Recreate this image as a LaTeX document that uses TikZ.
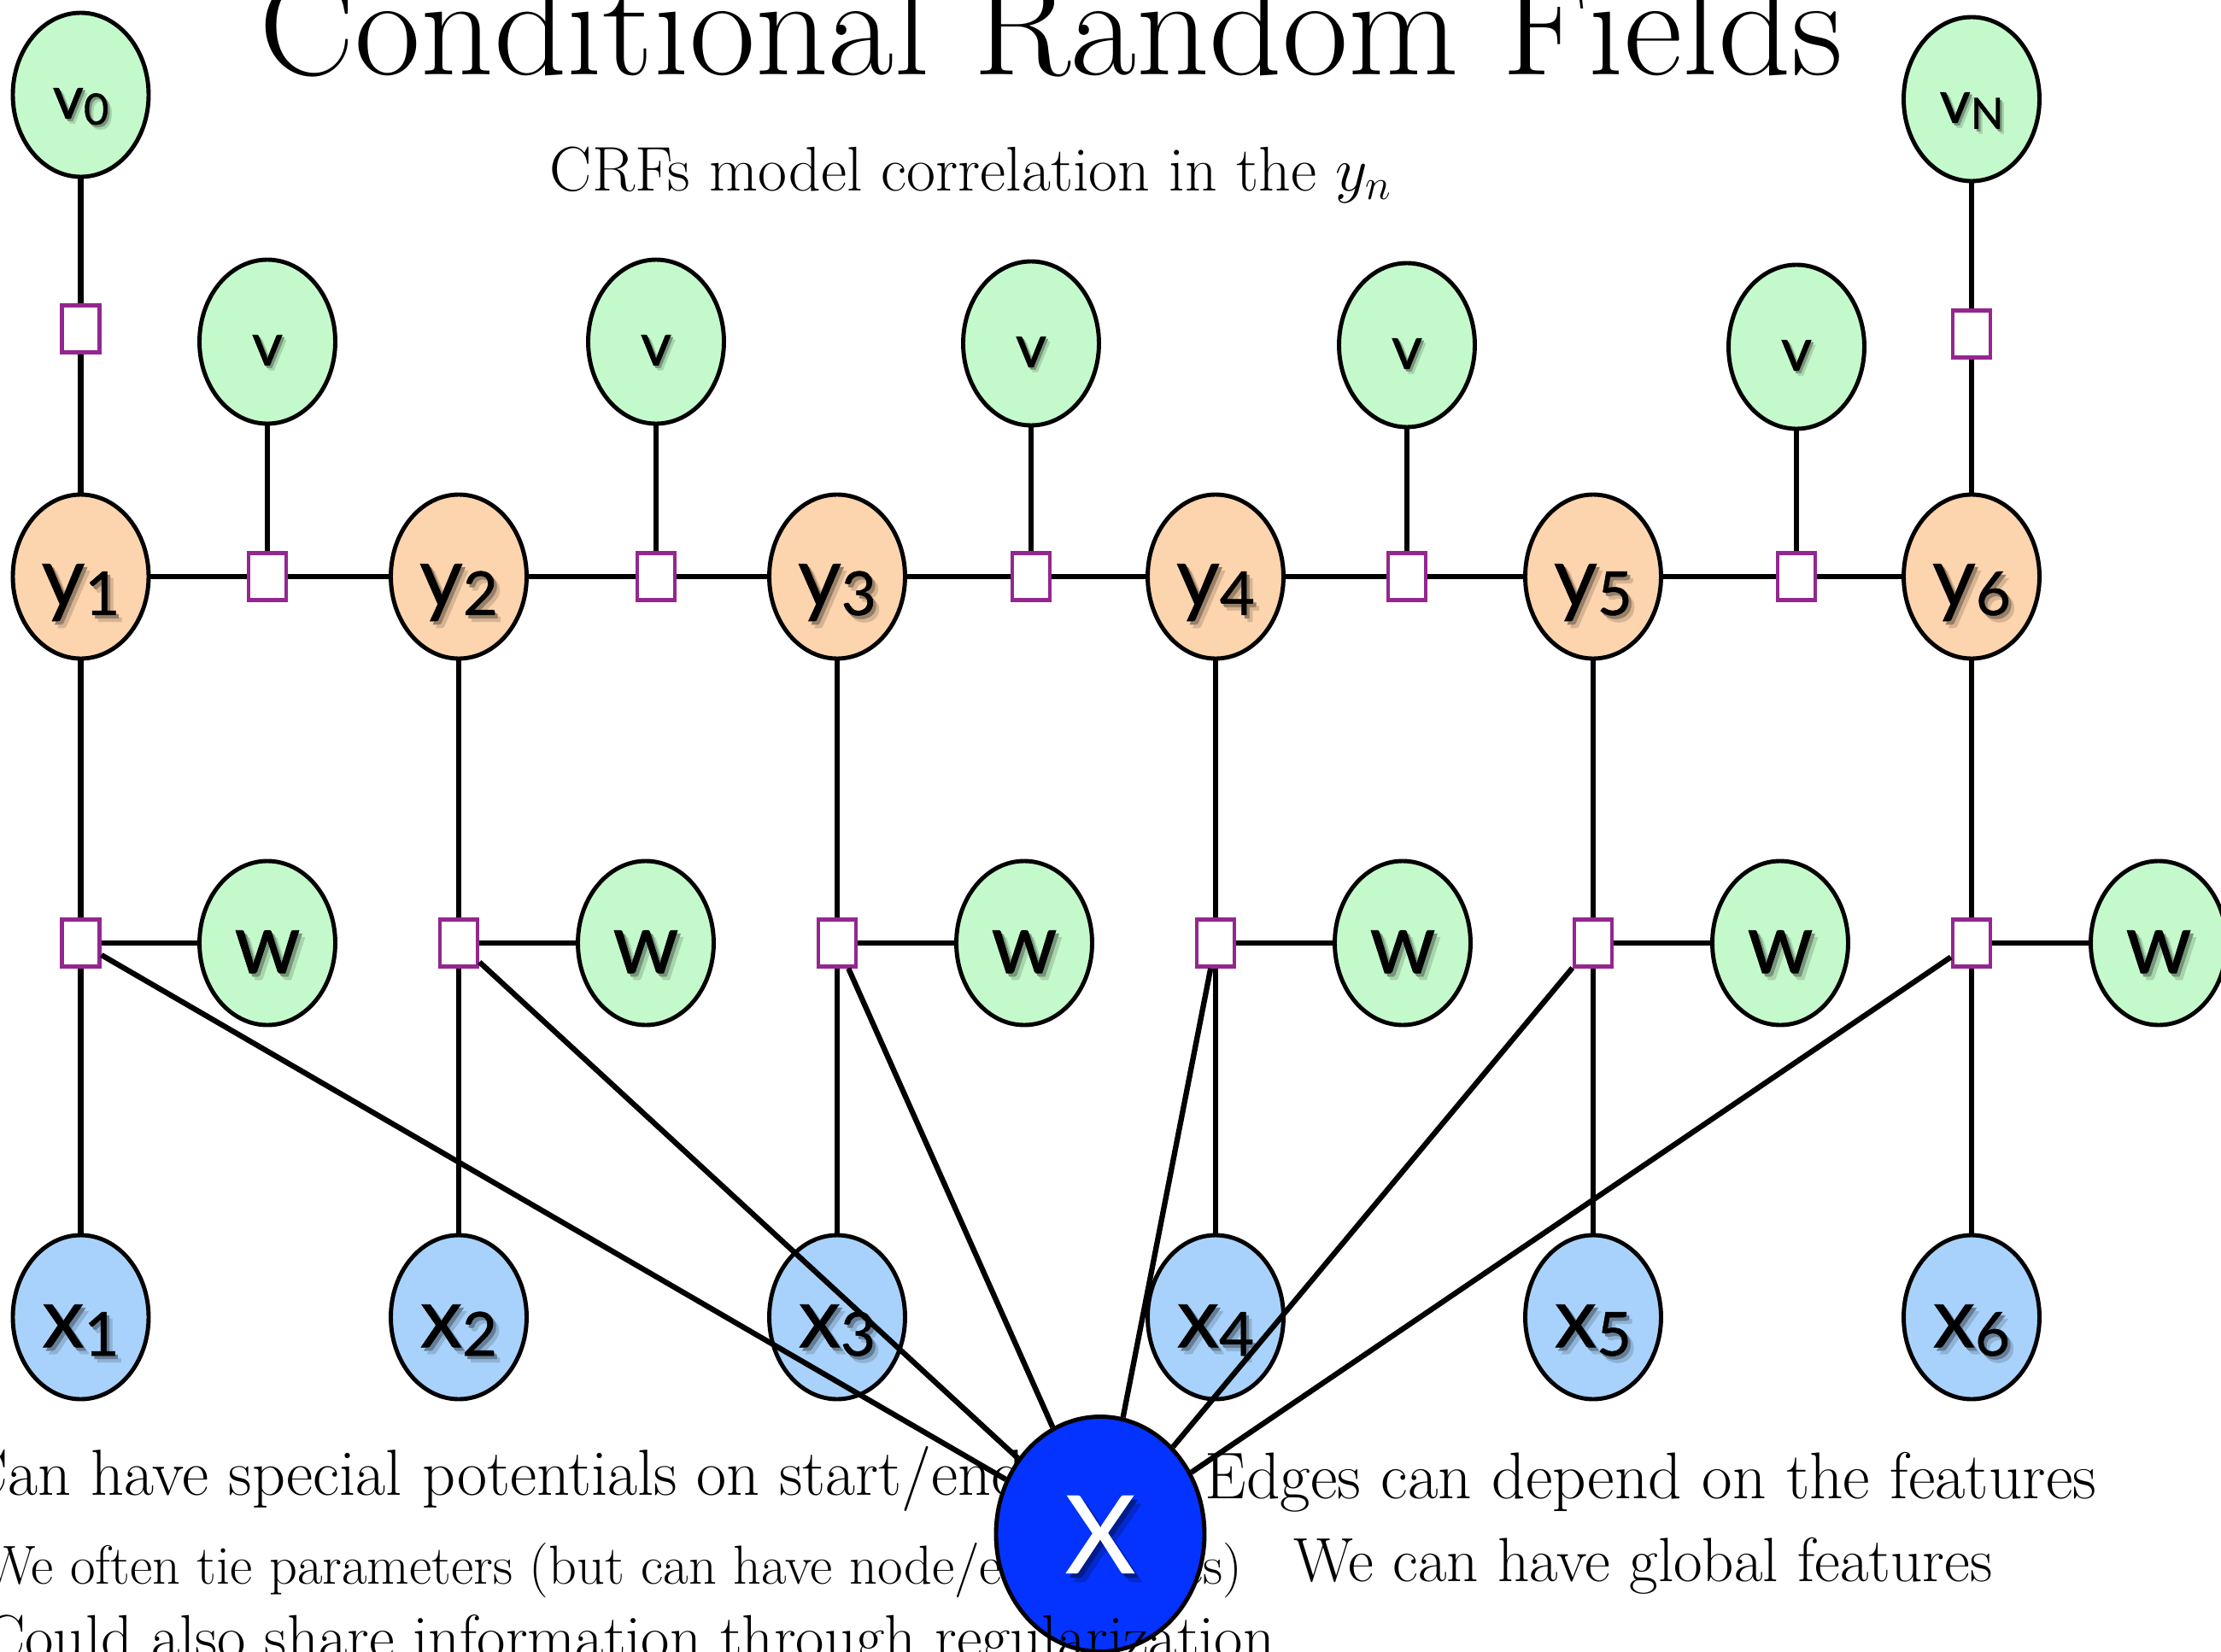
\documentclass[tikz,border=0pt]{standalone}
\usepackage{fontspec}
\newfontfamily\labfont{Lato}[FakeBold=0.7]
\usetikzlibrary{shapes.geometric}

\definecolor{ycol}{HTML}{FCD4AD}
\definecolor{gcol}{HTML}{C4FACB}
\definecolor{xcol}{HTML}{A8D2FB}
\definecolor{bigx}{HTML}{0433FF}
\definecolor{fcol}{HTML}{93278F}

% subscript of a node label
\newcommand\sub[1]{\raisebox{-0.1em}{\scalebox{0.72}{#1}}}
% label with a soft drop shadow
\newcommand\shd[1]{\rlap{\kern.07em\raisebox{-.08em}{\color{\shA}#1}}\rlap{\kern.035em\raisebox{-.04em}{\color{\shB}#1}}#1}

\tikzset{
  var/.style={ellipse, draw=black, line width=1.4pt, minimum width=1.59cm,
    minimum height=1.92cm, inner sep=0pt, font=\labfont\fontsize{28}{28}\selectfont,
    text height=20pt, text depth=0pt},
  ynode/.style={var, fill=ycol, execute at begin node={\def\shA{ycol!85!black}\def\shB{ycol!60!black}}},
  gnode/.style={var, fill=gcol, execute at begin node={\def\shA{gcol!85!black}\def\shB{gcol!60!black}}},
  vnode/.style={gnode, font=\labfont\fontsize{20}{20}\selectfont, text height=15.8pt},
  xnode/.style={var, fill=xcol, execute at begin node={\def\shA{xcol!85!black}\def\shB{xcol!60!black}}},
  bignode/.style={var, fill=bigx, text=white, minimum width=2.44cm, minimum height=2.75cm,
    font=\labfont\fontsize{36}{36}\selectfont, text height=26pt,
    execute at begin node={\def\shA{bigx!80!black}\def\shB{bigx!55!black}}},
  fac/.style={rectangle, draw=fcol, fill=white, line width=1.3pt,
    minimum width=0.44cm, minimum height=0.55cm, inner sep=0pt},
  link/.style={line width=1.8pt},
  txt/.style={inner sep=0pt, font=\fontsize{21.7}{24}\selectfont},
}

\begin{document}
\begin{tikzpicture}
\useasboundingbox (0,0) rectangle (26,-19.34);
\clip (0,0) rectangle (26,-19.34);

% headings
\node[inner sep=0pt, anchor=base west, font=\fontsize{47.7}{54}\selectfont] (title) at (3.03,-0.87) {Conditional Random Fields};
\node[txt, anchor=base west, font=\fontsize{21}{24}\selectfont] (sub) at (6.43,-2.23) {CRFs model correlation in the $y_n$};

% remarks under the chain
\node[txt, anchor=base west] (r1) at (-0.42,-17.50) {Can have special potentials on start/end};
\node[txt, anchor=base east, font=\fontsize{18.3}{21}\selectfont] (r2) at (14.55,-18.54) {We often tie parameters (but can have node/edge biases)};
\node[txt, anchor=base west, font=\fontsize{22}{24}\selectfont] (r4) at (14.10,-17.54) {Edges can depend on the features};
\node[txt, anchor=base west, font=\fontsize{20.8}{24}\selectfont] (r5) at (15.14,-18.51) {We can have global features};

% boundary parameters
\node[vnode] (v0) at (0.945,-1.11) {\shd{v\sub{0}}};
\node[vnode] (vN) at (23.08,-1.16) {\shd{v\sub{N}}};
\node[fac] (fv0) at (0.945,-3.85) {};
\node[fac] (fvN) at (23.08,-3.91) {};

% label chain
\foreach \i/\x in {1/0.945, 2/5.37, 3/9.80, 4/14.23, 5/18.65, 6/23.08} {
  \node[ynode] (y\i) at (\x,-6.75) {\shd{y\sub{\i}}};
  \node[fac] (fw\i) at (\x,-11.04) {};
  \node[xnode] (x\i) at (\x,-15.42) {\shd{x\sub{\i}}};
}
% edge parameters
\foreach \i/\x/\y in {1/3.13/-4.0, 2/7.68/-4.0, 3/12.07/-4.02, 4/16.47/-4.04, 5/21.03/-4.06} {
  \node[vnode] (v\i) at (\x,\y) {\shd{v}};
  \node[fac] (fy\i) at (\x,-6.75) {};
}
% node parameters
\foreach \i/\x in {1/3.13, 2/7.56, 3/11.99, 4/16.42, 5/20.84, 6/25.27} {
  \node[gnode] (w\i) at (\x,-11.04) {\shd{w}};
}

% global features
\node[bignode] (X) at (12.88,-17.96) {\shd{X}};

% connectors
\draw[link] (v0) -- (fv0);
\draw[link] (fv0) -- (y1);
\draw[link] (vN) -- (fvN);
\draw[link] (fvN) -- (y6);
\foreach \i [evaluate=\i as \j using int(\i+1)] in {1,...,5} {
  \draw[link] (y\i) -- (fy\i);
  \draw[link] (fy\i) -- (y\j);
  \draw[link] (v\i) -- (fy\i);
}
\foreach \i in {1,...,6} {
  \draw[link] (y\i) -- (fw\i);
  \draw[link] (fw\i) -- (x\i);
  \draw[link] (fw\i) -- (w\i);
  \draw[link] (fw\i) -- (X);
}

\node[txt, anchor=base east, font=\fontsize{20.65}{24}\selectfont] (r3) at (14.93,-19.41) {Could also share information through regularization};
\end{tikzpicture}
\end{document}
